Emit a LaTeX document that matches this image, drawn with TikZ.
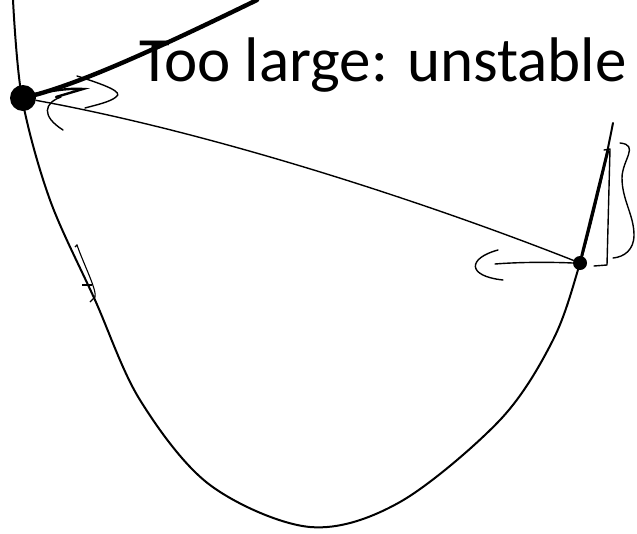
\documentclass[tikz,border=0pt]{standalone}
\usepackage{fontspec}
\setmainfont{Carlito}
\begin{document}
\begin{tikzpicture}[x=1pt, y=-1pt,
    pen/.style={line width=2pt, line cap=round, line join=round},
    fine/.style={line width=1.4pt, line cap=round, line join=round},
    dot/.style={circle, fill=black, inner sep=0pt}]
    \useasboundingbox (0,0) rectangle (637,533);
    % 损失曲线
    \draw[pen] plot[smooth, tension=0.55] coordinates {(13,0) (22,98) (50,200) (95,300) (140,400) (210,485) (310,527) (400,502) (500,420) (553,340) (580,263) (600,185) (613,123)};
    % 两个点
    \node[dot, minimum size=26pt] (start) at (23,98) {};
    \node[dot, minimum size=14pt] (next) at (580,263) {};
    % 过大的步长
    \coordinate (top) at (257,0);
    \draw[line width=4.4pt, line cap=round] (start.center) .. controls (75,86) and (150,52) .. (top);
    \draw[fine] (start) .. controls (210,132) and (420,200) .. (next);
    % 标注
    \node[anchor=base west, inner sep=0pt, font=\fontsize{63}{63}\selectfont] (label) at (139,81) {Too large: unstable};
    % 左侧涂写
    \draw[line width=2.4pt, line cap=round] (35,94) .. controls (55,90) and (72,88) .. (83,89) -- (56,97);
    \draw[fine] (77,76) .. controls (105,85) and (124,92) .. (116,97) .. controls (110,102) and (96,105) .. (85,108);
    \draw[fine] (61,97) .. controls (44,103) and (41,116) .. (63,130);
    \draw[line width=1.1pt] (75,247) -- (77,245) .. controls (84,265) and (97,290) .. (95,297) -- (90,302);
    \draw[line width=1.1pt] (82,285) -- (92,285);
    % 右侧涂写
    \draw[line width=3pt, line cap=round] (next) -- (608,150);
    \draw[fine] (604,150) -- (610,149) -- (607,265) -- (594,266);
    \draw[fine] (620,143) .. controls (640,145) and (622,160) .. (622,178) .. controls (622,200) and (634,215) .. (634,235) .. controls (634,250) and (624,257) .. (613,258);
    \draw[fine] (next.west) .. controls (550,262) and (520,262) .. (495,264);
    \draw[fine] (498,250) .. controls (468,258) and (466,276) .. (503,280);
\end{tikzpicture}
\end{document}
